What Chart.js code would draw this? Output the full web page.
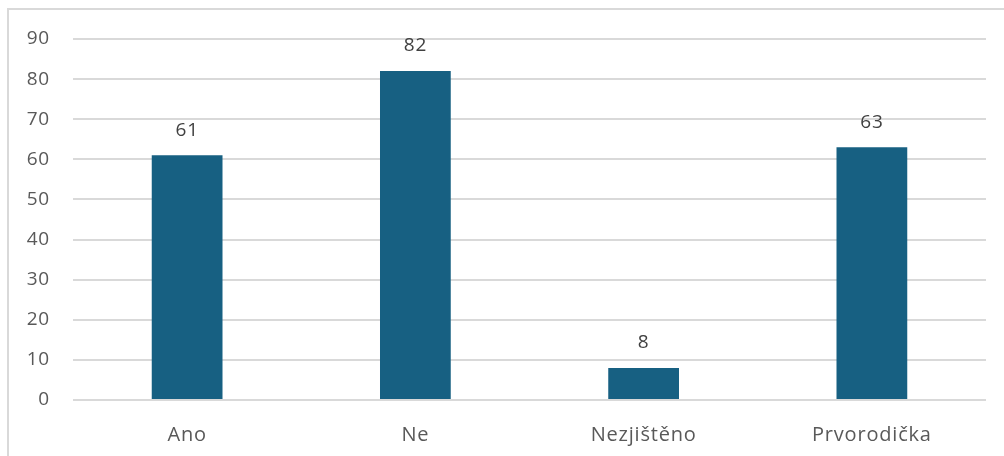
<!DOCTYPE html>
<html>
<head>
<meta charset="utf-8">
<script src="https://cdn.jsdelivr.net/npm/chart.js@4"></script>
<style>
  html, body { margin: 0; padding: 0; background: #fff; }
  #wrap { position: relative; width: 1004px; height: 456px; overflow: hidden; }
  #frame { position: absolute; left: 7px; top: 8px; width: 1010px; height: 470px; border: 2px solid #d9d9d9; box-sizing: border-box; }
  canvas { position: absolute; left: 0; top: 0; }
</style>
</head>
<body>
<div id="wrap">
  <div id="frame"></div>
  <canvas id="chart" width="1004" height="456"></canvas>
</div>
<script>
// Categories and values
const categories = ['Ano', 'Ne', 'Nezjištěno', 'Prvorodička'];
const counts = [61, 82, 8, 63];
const yMax = 90;
const yStep = 10;

const fontFamily = '"Open Sans", sans-serif';

// a bit of letter spacing, the original font runs wide
const spacing = {
    id: 'spacing',
    beforeDraw(chart) {
        chart.ctx.letterSpacing = '0.8px';
    }
};

// Value labels above each bar
const barLabels = {
    id: 'barLabels',
    afterDatasetsDraw(chart) {
        const ctx = chart.ctx;
        const meta = chart.getDatasetMeta(0);
        ctx.save();
        ctx.font = '19px ' + fontFamily;
        ctx.fillStyle = '#404040';
        ctx.textAlign = 'center';
        ctx.textBaseline = 'middle';
        meta.data.forEach((bar, i) => {
            ctx.fillText(String(counts[i]), bar.x, bar.y - 25);
        });
        ctx.restore();
    }
};

const ctx = document.getElementById('chart').getContext('2d');
const chart = new Chart(ctx, {
    type: 'bar',
    data: {
        labels: categories,
        datasets: [{
            data: counts,
            backgroundColor: '#176082',
            borderWidth: 0,
            categoryPercentage: 1,
            barPercentage: 0.31
        }]
    },
    options: {
        responsive: false,
        animation: false,
        layout: { padding: { top: 39, right: 18, bottom: 0, left: 0 } },
        scales: {
            x: {
                grid: { display: false },
                border: { display: false },
                ticks: {
                    color: '#595959',
                    font: { family: fontFamily, size: 20 },
                    padding: 15,
                    maxRotation: 0
                },
                afterFit: (scale) => { scale.height = 56; }
            },
            y: {
                min: 0,
                max: yMax,
                grid: { color: '#d9d9d9', lineWidth: 2, drawTicks: false },
                border: { display: false },
                ticks: {
                    stepSize: yStep,
                    color: '#595959',
                    font: { family: fontFamily, size: 19 },
                    padding: 23
                },
                afterFit: (scale) => { scale.width = 73; }
            }
        },
        plugins: {
            legend: { display: false },
            tooltip: { enabled: false }
        }
    },
    plugins: [spacing, barLabels]
});
</script>
</body>
</html>
